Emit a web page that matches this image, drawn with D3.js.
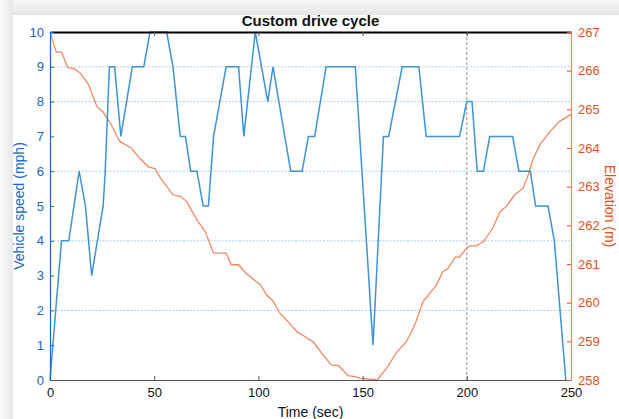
<!DOCTYPE html>
<html>
<head>
<meta charset="utf-8">
<script src="https://cdn.jsdelivr.net/npm/d3@7"></script>
<style>
  body { margin: 0; background: #fff; }
  svg { display: block; font-family: "Liberation Sans", Arial, sans-serif; }
</style>
</head>
<body>
<svg id="chart" width="619" height="419"></svg>
<script>
// speed samples [time (sec), speed (mph)]
var speedTimes = [0, 5.5, 9, 14, 17, 20, 25.5, 26.5, 28.5, 31, 34, 39.5, 45, 48, 56, 59, 62.5, 65, 67.5, 70.5,
  73.5, 76, 78.5, 84.5, 90.5, 93, 98.5, 104.5, 107, 115.5, 121, 124, 127, 132.5, 146.5, 155, 160, 162.5,
  169, 177, 180.5, 196.5, 200, 202.5, 205, 208, 211, 222, 225, 230.5, 233, 239, 242, 247.5];
var speedValues = [0, 4, 4, 6, 5, 3, 5, 6, 9, 9, 7, 9, 9, 10, 10, 9, 7, 7, 6, 6,
  5, 5, 7, 9, 9, 7, 10, 8, 9, 6, 6, 7, 7, 9, 9, 1, 7, 7,
  9, 9, 7, 7, 8, 8, 6, 6, 7, 7, 6, 6, 5, 5, 4, 0];

// elevation samples [time (sec), elevation (m)]
var elevTimes = [0, 3, 5.5, 8.5, 11.5, 14.5, 18.5, 22.5, 25.5, 29, 33.5, 39, 43, 47, 50.5, 53, 59, 62.5, 65.5,
  70.5, 74.5, 78.5, 84.5, 87, 90.5, 94, 101, 104, 107, 110, 113, 118.5, 123, 126.5, 131, 135, 138.5,
  143, 146.5, 149, 157, 161.5, 166.5, 171, 175, 179, 185.5, 188.5, 191, 194.5, 196.5, 200, 201.5,
  204.5, 208, 212.5, 216, 219, 223, 227, 229.5, 232, 235, 240, 244.5, 250];
var elevValues = [267, 266.48, 266.48, 266.08, 266.05, 265.94, 265.64, 265.07, 264.93, 264.64, 264.17, 264.0,
  263.74, 263.52, 263.46, 263.22, 262.79, 262.75, 262.62, 262.14, 261.84, 261.28, 261.28, 260.98, 260.98,
  260.76, 260.46, 260.19, 260.05, 259.75, 259.58, 259.25, 259.1, 258.98, 258.65, 258.39, 258.37, 258.11,
  258.09, 258.04, 258.0, 258.3, 258.73, 258.99, 259.42, 260.03, 260.46, 260.8, 260.89, 261.18, 261.18,
  261.41, 261.47, 261.47, 261.58, 261.93, 262.36, 262.49, 262.79, 262.96, 263.31, 263.74, 264.08, 264.43,
  264.69, 264.87];

var xTicks = [0, 50, 100, 150, 200, 250];
var speedTicks = [0, 1, 2, 3, 4, 5, 6, 7, 8, 9, 10];
var elevTicks = [258, 259, 260, 261, 262, 263, 264, 265, 266, 267];
var speedGrid = [2, 4, 6, 8, 9];
var timeGrid = [200];

var blue = "#3d93d6", blueAxis = "#1667c0", orange = "#ec8a62", orangeAxis = "#e5511c";

var svg = d3.select("#chart"),
    margin = {top: 32, right: 48, bottom: 39, left: 50},
    width = 619 - margin.left - margin.right,
    height = 419 - margin.top - margin.bottom;

// window frame shading
var defs = svg.append("defs");
var gTop = defs.append("linearGradient").attr("id", "shTop").attr("x1", 0).attr("y1", 0).attr("x2", 0).attr("y2", 1);
gTop.append("stop").attr("offset", "0%").attr("stop-color", "#f7f7f7");
gTop.append("stop").attr("offset", "100%").attr("stop-color", "#e6e6e6");
var gLeft = defs.append("linearGradient").attr("id", "shLeft").attr("x1", 0).attr("y1", 0).attr("x2", 1).attr("y2", 0);
gLeft.append("stop").attr("offset", "0%").attr("stop-color", "#fafafa");
gLeft.append("stop").attr("offset", "100%").attr("stop-color", "#e8e8e8");
svg.append("rect").attr("x", 0).attr("y", 0).attr("width", 619).attr("height", 15).attr("fill", "url(#shTop)");
svg.append("rect").attr("x", 0).attr("y", 0).attr("width", 13).attr("height", 419).attr("fill", "url(#shLeft)");

var g = svg.append("g").attr("transform", "translate(" + margin.left + "," + margin.top + ")");

var x = d3.scaleLinear().domain([0, 250]).range([0, width]),
    y = d3.scaleLinear().domain([0, 10]).range([height, 0]),
    y2 = d3.scaleLinear().domain([258, 267]).range([height, 0]);

// grid
g.selectAll(".hgrid").data(speedGrid).enter().append("line")
    .attr("x1", 0).attr("x2", width)
    .attr("y1", function(d) { return y(d); }).attr("y2", function(d) { return y(d); })
    .attr("stroke", "#a9cfee").attr("stroke-width", 1).attr("stroke-dasharray", "2,1.5");
g.selectAll(".vgrid").data(timeGrid).enter().append("line")
    .attr("x1", function(d) { return x(d); }).attr("x2", function(d) { return x(d); })
    .attr("y1", 0).attr("y2", height)
    .attr("stroke", "#777").attr("stroke-width", 0.8).attr("stroke-dasharray", "3,2");

// lines
var speedData = speedTimes.map(function(t, i) { return {t: t, v: speedValues[i]}; });
var elevData = elevTimes.map(function(t, i) { return {t: t, v: elevValues[i]}; });

g.append("path")
    .datum(elevData)
    .attr("fill", "none").attr("stroke", orange).attr("stroke-width", 1.3)
    .attr("d", d3.line().x(function(d) { return x(d.t); }).y(function(d) { return y2(d.v); }));

g.append("path")
    .datum(speedData)
    .attr("fill", "none").attr("stroke", blue).attr("stroke-width", 1.5)
    .attr("d", d3.line().x(function(d) { return x(d.t); }).y(function(d) { return y(d.v); }));

// axes
var xAxis = g.append("g").attr("transform", "translate(0," + height + ")")
    .call(d3.axisBottom(x).tickValues(xTicks).tickSizeInner(-4).tickSizeOuter(0).tickPadding(8));
xAxis.select(".domain").attr("stroke", "#555");
xAxis.selectAll(".tick line").attr("stroke", "#555");
xAxis.selectAll("text").attr("fill", "#111").style("font-size", "13px");

var xTop = g.append("g")
    .call(d3.axisTop(x).tickValues(xTicks).tickSizeInner(-4).tickSizeOuter(0).tickFormat(""));
xTop.select(".domain").attr("stroke", "#000").attr("stroke-width", 2);
xTop.selectAll(".tick line").attr("stroke", "#555");

var yAxis = g.append("g")
    .call(d3.axisLeft(y).tickValues(speedTicks).tickSizeInner(-4).tickSizeOuter(0).tickPadding(6));
yAxis.select(".domain").attr("stroke", blueAxis).attr("stroke-width", 1.2);
yAxis.selectAll(".tick line").attr("stroke", blueAxis);
yAxis.selectAll("text").attr("fill", blueAxis).style("font-size", "13px");

var yAxis2 = g.append("g").attr("transform", "translate(" + width + ",0)")
    .call(d3.axisRight(y2).tickValues(elevTicks).tickSizeInner(-4).tickSizeOuter(0).tickPadding(7));
yAxis2.select(".domain").attr("stroke", orange).attr("stroke-width", 1.2);
yAxis2.selectAll(".tick line").attr("stroke", orangeAxis);
yAxis2.selectAll("text").attr("fill", orangeAxis).style("font-size", "13px");

// labels
svg.append("text")
    .attr("x", margin.left + width / 2).attr("y", 26)
    .attr("text-anchor", "middle")
    .style("font-size", "15px").style("font-weight", "bold").attr("fill", "#111")
    .text("Custom drive cycle");

svg.append("text")
    .attr("x", margin.left + width / 2).attr("y", 417)
    .attr("text-anchor", "middle")
    .style("font-size", "14px").attr("fill", "#111")
    .text("Time (sec)");

svg.append("text")
    .attr("transform", "translate(24," + (margin.top + height / 2) + ") rotate(-90)")
    .attr("text-anchor", "middle")
    .style("font-size", "14px").attr("fill", blueAxis)
    .text("Vehicle speed (mph)");

svg.append("text")
    .attr("transform", "translate(605," + (margin.top + height / 2) + ") rotate(90)")
    .attr("text-anchor", "middle")
    .style("font-size", "14px").attr("fill", orangeAxis)
    .text("Elevation (m)");
</script>
</body>
</html>
